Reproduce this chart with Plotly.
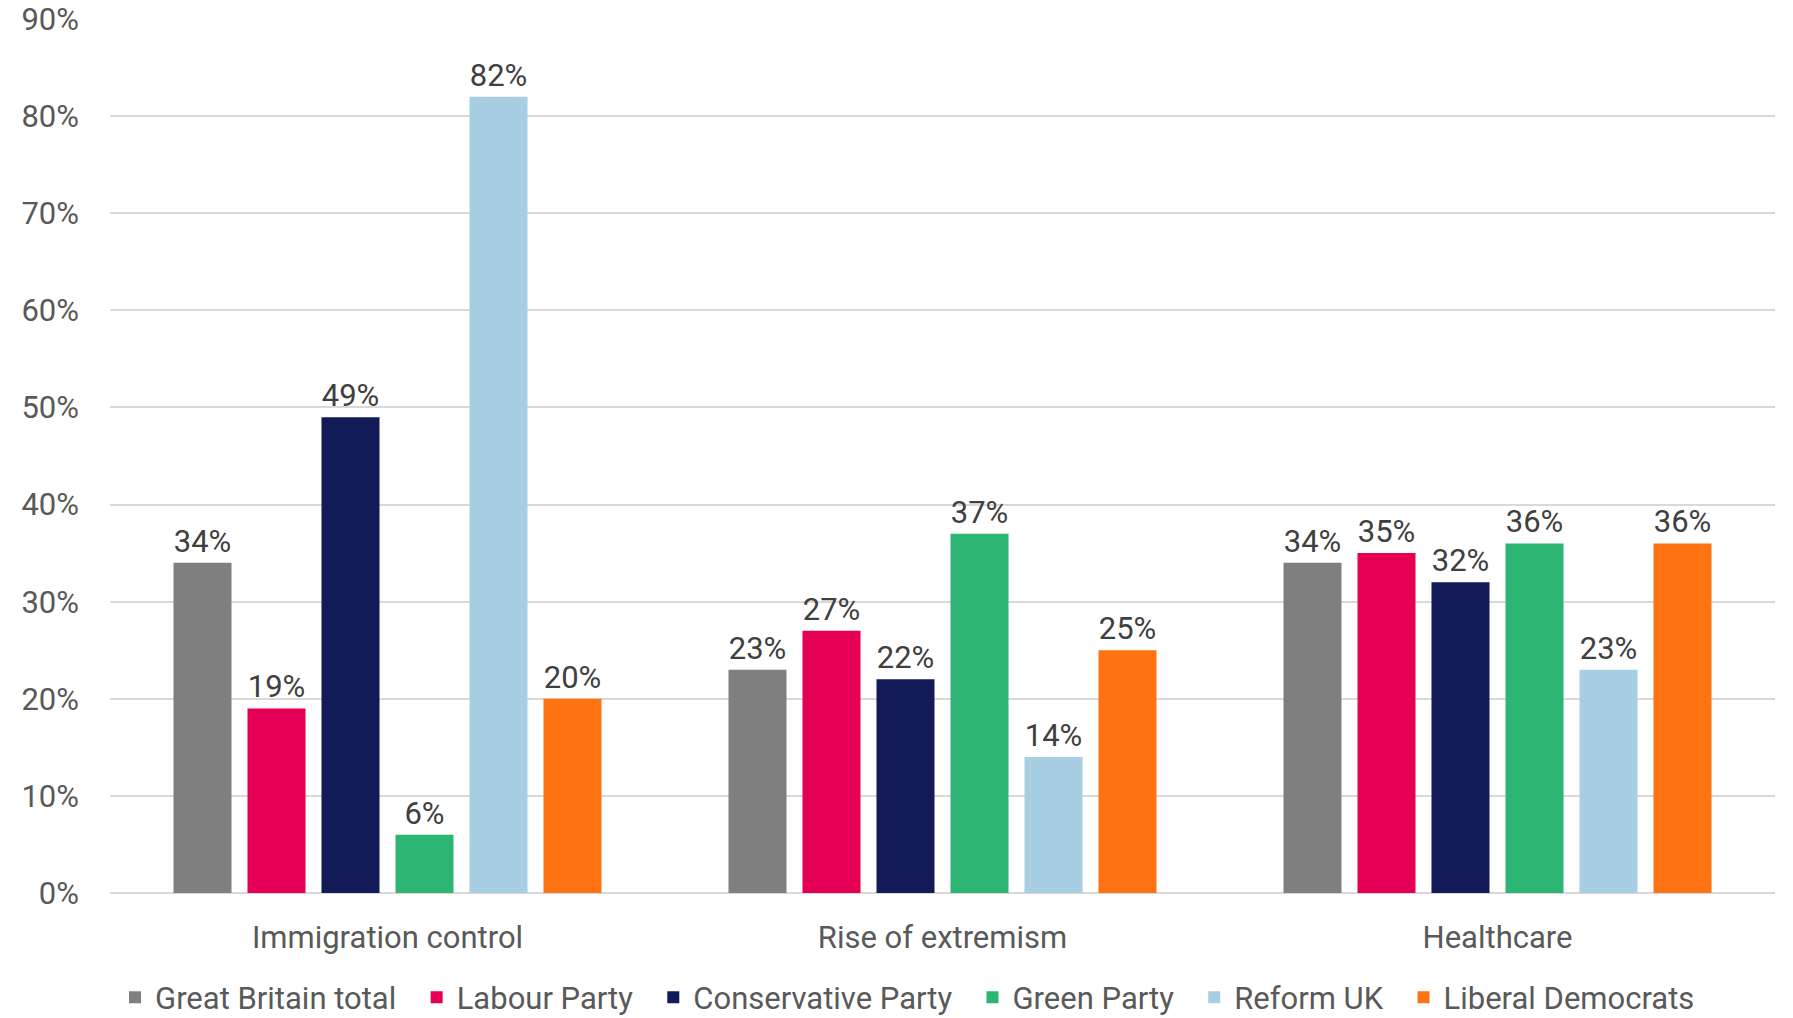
import plotly.graph_objects as go

categories = ["Immigration control", "Rise of extremism", "Healthcare"]
series_names = ["Great Britain total", "Labour Party", "Conservative Party",
                "Green Party", "Reform UK", "Liberal Democrats"]
gb_total = [34, 23, 34]
labour = [19, 27, 35]
conservative = [49, 22, 32]
green = [6, 37, 36]
reform = [82, 14, 23]
libdem = [20, 25, 36]
values = [gb_total, labour, conservative, green, reform, libdem]
colors = ["#7f7f7f", "#e50056", "#121b58", "#2db574", "#a7cee2", "#ff7313"]
y_ticks = [0, 10, 20, 30, 40, 50, 60, 70, 80, 90]

FONT = "Roboto, 'Liberation Sans', sans-serif"
TXT = "#595959"

fig = go.Figure()
n = len(series_names)
for i, (name, vals, col) in enumerate(zip(series_names, values, colors)):
    label = name + ("\u00a0\u00a0" if i < n - 1 else "")
    fig.add_trace(go.Bar(
        x=categories, y=vals, name=label,
        marker=dict(color=col, line=dict(width=0)),
        text=[f"{v}%" for v in vals], textposition="outside",
        textfont=dict(size=31, color="#404040", family=FONT),
        cliponaxis=False,
    ))

fig.update_layout(
    barmode="group", bargap=0.2, bargroupgap=0.216,
    width=1793, height=1018,
    margin=dict(l=110, r=18, t=19, b=125, autoexpand=False),
    paper_bgcolor="white", plot_bgcolor="white",
    font=dict(family=FONT, size=31, color=TXT),
    showlegend=True,
    legend=dict(orientation="h", x=0.479, xanchor="center",
                yref="container", y=0.02, yanchor="middle",
                font=dict(size=31, color=TXT), itemwidth=30,
                tracegroupgap=0),
    xaxis=dict(showgrid=False, showline=False, ticks="", tickfont=dict(size=31, color=TXT),
               ticklabelstandoff=23),
    yaxis=dict(range=[0, 90], tickvals=y_ticks, ticktext=[f"{t}%" for t in y_ticks],
               showgrid=True, gridcolor="#d9d9d9", gridwidth=2,
               zeroline=True, zerolinecolor="#d9d9d9", zerolinewidth=2,
               showline=False, ticks="", tickfont=dict(size=31, color=TXT),
               ticklabelstandoff=30),
)

fig.write_html("out.html")
